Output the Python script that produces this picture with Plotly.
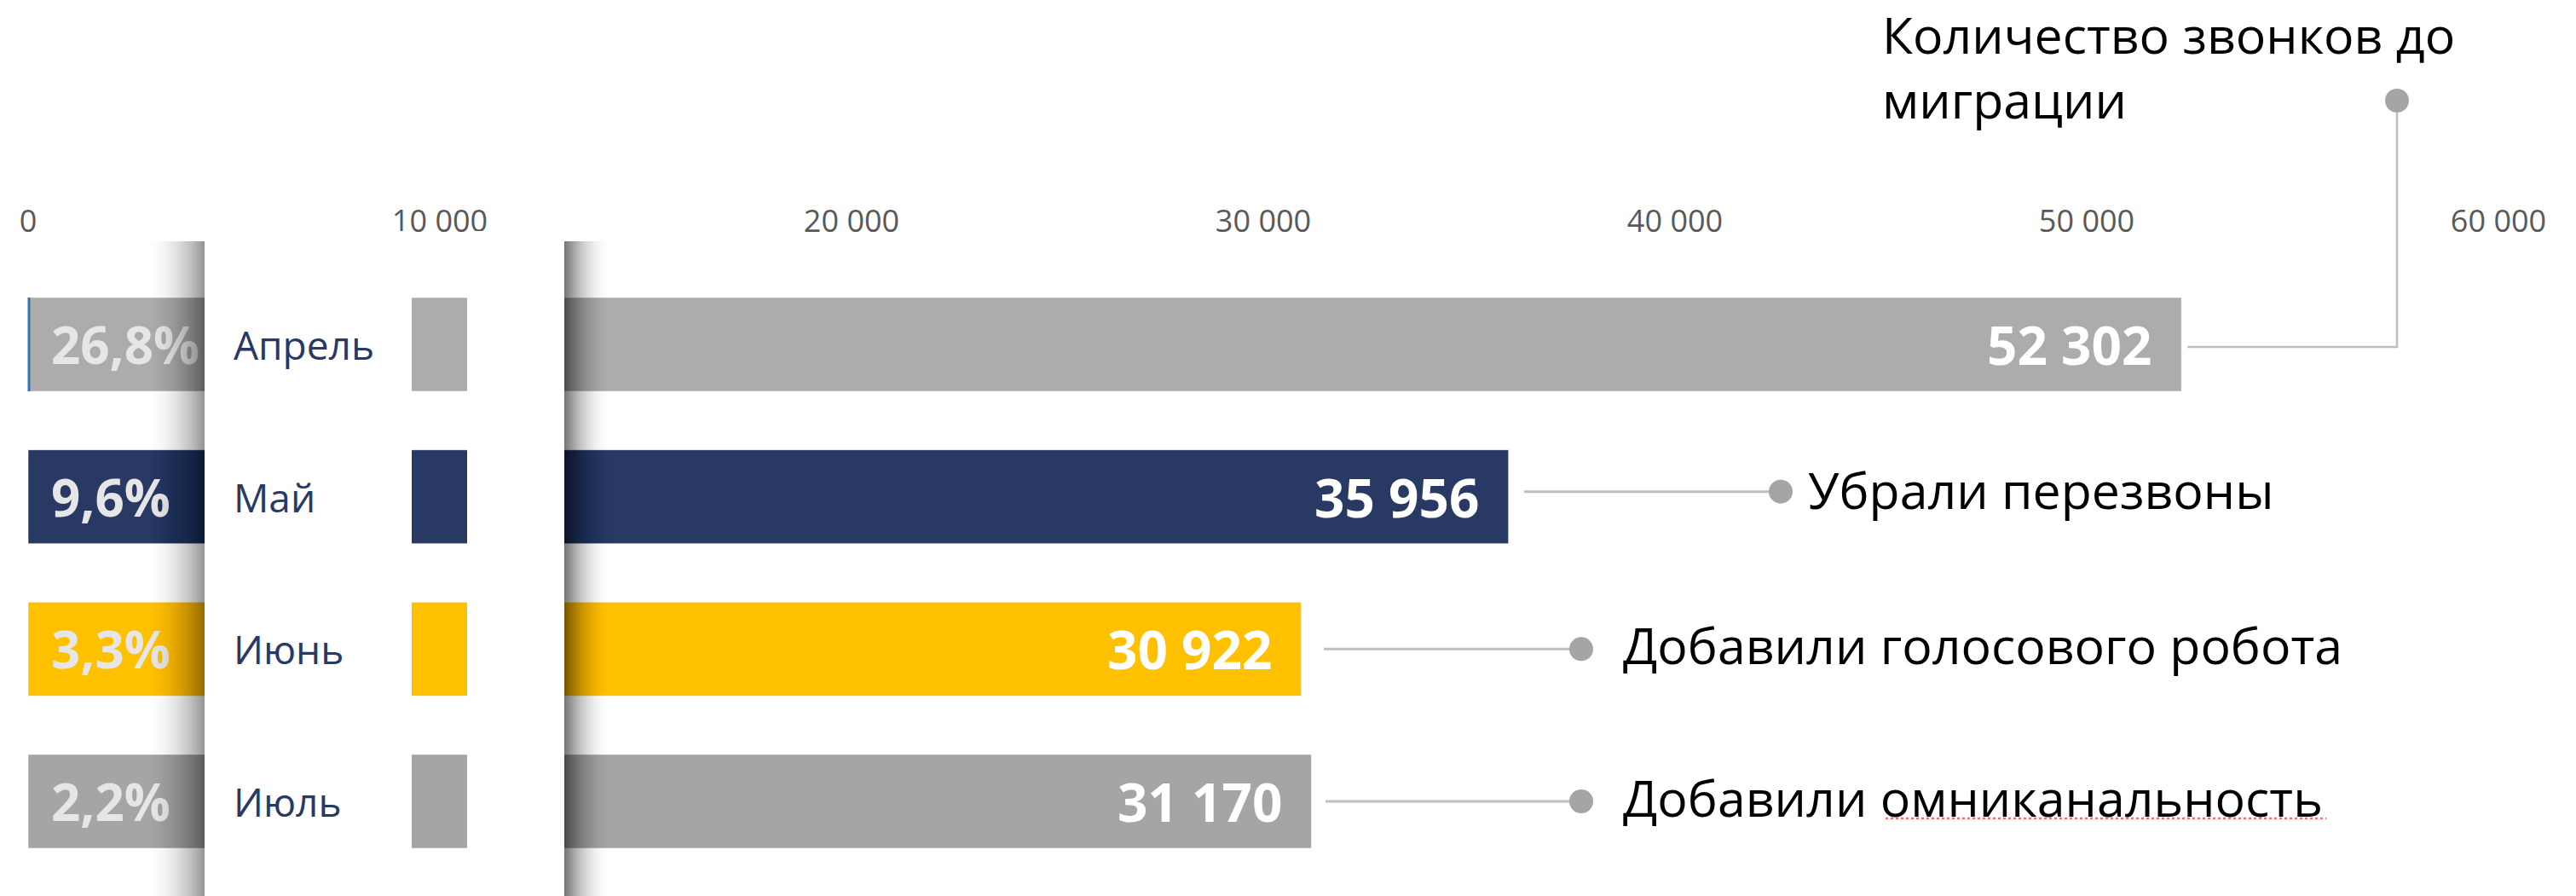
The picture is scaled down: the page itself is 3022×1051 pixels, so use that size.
import plotly.graph_objects as go

# ---------------- data ----------------
months = ["Апрель", "Май", "Июнь", "Июль"]
calls = [52302, 35956, 30922, 31170]
pct_change = [26.8, 9.6, 3.3, 2.2]
bar_colors = ["#AEABAB", "#283964", "#FFC000", "#A5A5A5"]
note_lines_top = ["Количество звонков до", "миграции"]
notes = ["Убрали перезвоны", "Добавили голосового робота", "Добавили омниканальность"]
tick_vals = [0, 10000, 20000, 30000, 40000, 50000, 60000]
tick_text = ["0", "10 000", "20 000", "30 000", "40 000", "50 000", "60 000"]

# ---------------- geometry / style ----------------
W, H = 3022, 1051
ML, MR, MT, MB = 33, 91, 290, 22
PW, PH = W - ML - MR, H - MT - MB
XMAX = 60000
ROW0_PX = 404.0          # pixel centre of first row
ROW_STEP = 178.67        # pixels per category
BAR_W = 0.616
FONT = "Open Sans"


def xp(px):
    return (px - ML) / PW


def yp(py):
    return (H - MB - py) / PH


def xd(px):
    return (px - ML) / PW * XMAX


def x2px(v):
    return ML + v / XMAX * PW


def row_px(i):
    return ROW0_PX + i * ROW_STEP


y_top = -(ROW0_PX - MT) / ROW_STEP
y_bot = (H - MB - ROW0_PX) / ROW_STEP

fmt_int = lambda v: f"{v:,}".replace(",", " ")
fmt_pct = lambda p: f"{p:.1f}%".replace(".", ",")

fig = go.Figure()

# main bars
fig.add_trace(go.Bar(
    y=months, x=calls, orientation="h", width=BAR_W,
    marker=dict(color=bar_colors, line=dict(color="rgba(255,255,255,0.55)", width=1)),
    hoverinfo="skip", showlegend=False,
))
# transparent overlay carrying the percentage labels (inside start)
pct_base = xd(57)
fig.add_trace(go.Bar(
    y=months, x=[c - pct_base for c in calls], base=[pct_base] * len(calls),
    orientation="h", width=BAR_W,
    marker=dict(color="rgba(0,0,0,0)", line=dict(width=0)),
    text=[fmt_pct(p) for p in pct_change], textposition="inside",
    insidetextanchor="start", constraintext="none",
    textfont=dict(family=FONT, size=60, color="#E7E6E6", weight=700),
    hoverinfo="skip", showlegend=False,
))

shapes = []


def shadow(edge_px, direction, width, amax, top_px, n=28):
    prev = 0.0
    for k in range(n):
        w = width * (1 - k / n)
        dmid = width * (1 - (k + 0.5) / n)
        T = amax * (1 - dmid / width) ** 2
        a = 1 - (1 - T) / (1 - prev)
        prev = T
        x0, x1 = sorted([edge_px + direction * w, edge_px])
        shapes.append(dict(type="rect", xref="paper", yref="paper",
                           x0=xp(x0), x1=xp(x1), y0=yp(H + 10), y1=yp(top_px),
                           fillcolor=f"rgba(0,0,0,{a:.4f})", line=dict(width=0),
                           layer="above"))


CARD_L, CARD_R, CARD_T = 240, 662, 271
GAP_L, GAP_R = 483, 548
shadow(CARD_L, -1, 70, 0.40, CARD_T + 12)
shadow(CARD_R, +1, 56, 0.52, CARD_T + 12)
for a, b in [(CARD_L, GAP_L), (GAP_R, CARD_R)]:
    shapes.append(dict(type="rect", xref="paper", yref="paper",
                       x0=xp(a), x1=xp(b), y0=yp(H + 10), y1=yp(CARD_T),
                       fillcolor="white", line=dict(width=0), layer="above"))

# thin blue edge on first bar
shapes.append(dict(type="line", xref="paper", yref="y",
                   x0=xp(ML + 1), x1=xp(ML + 1), y0=0 - BAR_W / 2, y1=0 + BAR_W / 2,
                   line=dict(color="#2E75B6", width=3), layer="above"))

LINE_C = "#BFBFBF"
DOT_C = "#A5A5A5"

# connector for first row (goes up to the top note)
top_dot = (2812, 118)
h_y = row_px(0) + 3
sx = x2px(calls[0]) + 7
shapes.append(dict(type="path", xref="paper", yref="paper",
                   path=f"M {xp(sx)},{yp(h_y)} L {xp(top_dot[0])},{yp(h_y)} L {xp(top_dot[0])},{yp(top_dot[1])}",
                   line=dict(color=LINE_C, width=2.5), layer="above"))


def dot(px, py):
    shapes.append(dict(type="circle", xref="paper", yref="paper",
                       xsizemode="pixel", ysizemode="pixel",
                       xanchor=xp(px), yanchor=yp(py),
                       x0=-14, x1=14, y0=-14, y1=14,
                       fillcolor=DOT_C, line=dict(width=0), layer="above"))


dot(*top_dot)

# connectors for the other rows
line_start_px = [None, 1788, 1553, 1555]
dot_px = [None, 2089, 1855, 1855]
text_px = [None, 2119, 1902, 1902]
for i in range(1, 4):
    cy = row_px(i) - 6 if i == 1 else row_px(i)
    shapes.append(dict(type="line", xref="paper", yref="paper",
                       x0=xp(line_start_px[i]), x1=xp(dot_px[i]),
                       y0=yp(cy), y1=yp(cy),
                       line=dict(color=LINE_C, width=3), layer="above"))
    dot(dot_px[i], cy)

# spell-check underline
shapes.append(dict(type="line", xref="paper", yref="paper",
                   x0=xp(2212), x1=xp(2729), y0=yp(960), y1=yp(960),
                   line=dict(color="#F07070", width=2.5, dash="dot"), layer="above"))

annotations = []
# value labels
for m, v in zip(months, calls):
    annotations.append(dict(x=v, y=m, xref="x", yref="y", text=fmt_int(v),
                            xanchor="right", yanchor="middle", xshift=-33, showarrow=False,
                            font=dict(family=FONT, size=62, color="white", weight=700)))
# month labels in the card
for m in months:
    annotations.append(dict(x=xp(272), y=m, xref="paper", yref="y", text=m,
                            xanchor="left", yanchor="middle", showarrow=False,
                            font=dict(family=FONT, size=46, color="#283964")))
# notes
annotations.append(dict(x=xp(2206), y=yp(40), xref="paper", yref="paper", text=note_lines_top[0],
                        xanchor="left", yanchor="middle", showarrow=False,
                        font=dict(family=FONT, size=59, color="black")))
annotations.append(dict(x=xp(2206), y=yp(116), xref="paper", yref="paper", text=note_lines_top[1],
                        xanchor="left", yanchor="middle", showarrow=False,
                        font=dict(family=FONT, size=59, color="black")))
note_y = [None, 574, 756, 935]
for i in range(1, 4):
    annotations.append(dict(x=xp(text_px[i]), y=yp(note_y[i]), xref="paper", yref="paper",
                            text=notes[i - 1], xanchor="left", yanchor="middle", showarrow=False,
                            font=dict(family=FONT, size=59, color="black")))

fig.update_layout(
    width=W, height=H,
    margin=dict(l=ML, r=MR, t=MT, b=MB, pad=0),
    paper_bgcolor="white", plot_bgcolor="white",
    barmode="overlay", separators=", ",
    shapes=shapes, annotations=annotations,
    xaxis=dict(range=[0, XMAX], side="top", tickvals=tick_vals, ticktext=tick_text,
               showgrid=False, zeroline=False, showline=False, ticks="",
               ticklabelstandoff=10,
               tickfont=dict(family=FONT, size=36, color="#595959"), fixedrange=True),
    yaxis=dict(type="category", categoryorder="array", categoryarray=months,
               range=[y_bot, y_top], showticklabels=False, showgrid=False,
               zeroline=False, showline=False, ticks="", fixedrange=True),
)

fig.write_html("out.html", config={"displayModeBar": False},
               post_script="document.body.style.margin='0';document.body.style.overflow='hidden';")
